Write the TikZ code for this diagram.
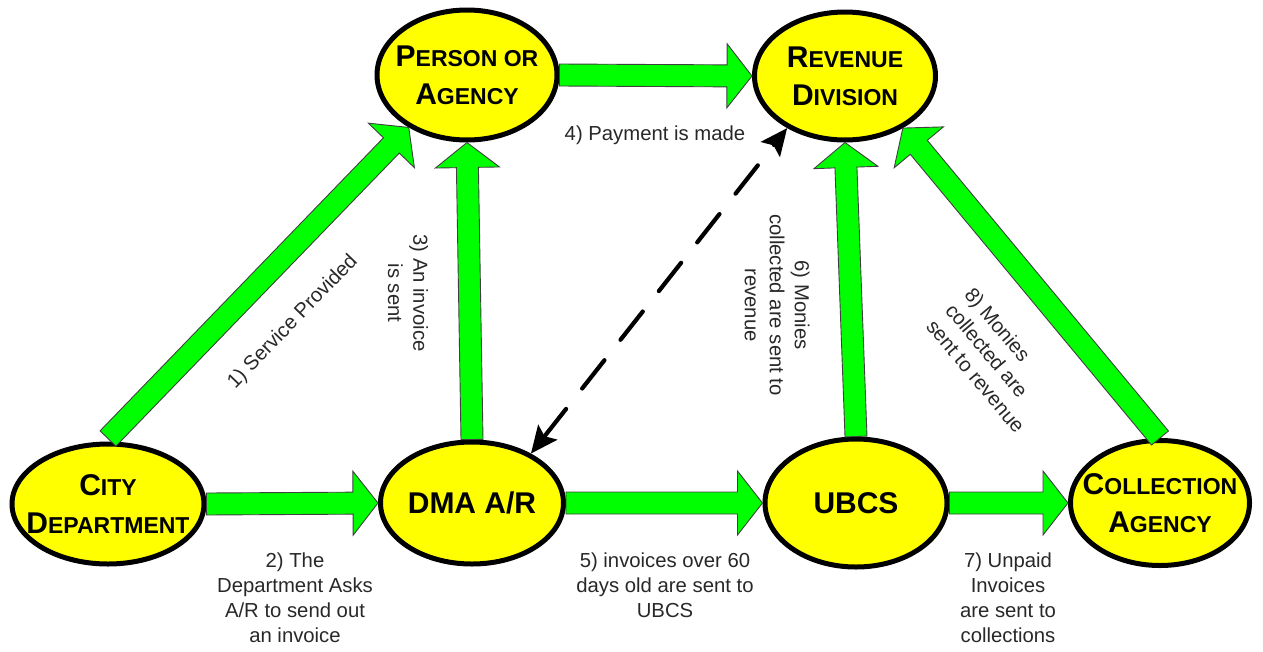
\documentclass[tikz,border=0pt]{standalone}
\usepackage{fontspec}
\setmainfont{Liberation Sans}
\usetikzlibrary{shapes.geometric,calc,arrows.meta}
\definecolor{ylw}{RGB}{255,255,0}
\definecolor{grn}{RGB}{0,255,0}
\definecolor{lbl}{RGB}{40,40,40}
\newcommand\bigc[1]{{\fontsize{30}{38}\selectfont #1}}
\newcommand\blockarrow[2]{%
  \coordinate (ba-s) at (#1);
  \coordinate (ba-e) at (#2);
  \coordinate (ba-h) at ($(ba-e)!25pt!(ba-s)$);
  \draw[blockar] ($(ba-s)!11pt!90:(ba-e)$) -- ($(ba-h)!11pt!90:(ba-e)$)
    -- ($(ba-h)!32pt!90:(ba-e)$) -- (ba-e) -- ($(ba-h)!32pt!-90:(ba-e)$)
    -- ($(ba-h)!11pt!-90:(ba-e)$) -- ($(ba-s)!11pt!-90:(ba-e)$) -- cycle;}
\tikzset{
  ell/.style={ellipse, draw=black, line width=5pt, fill=ylw, inner sep=0pt},
  ttl/.style={font=\fontsize{23}{38}\selectfont\bfseries, align=center, text=black, inner sep=0pt},
  lab/.style={font=\fontsize{20.3}{25}\selectfont, text=lbl, align=center, inner sep=0pt},
  blockar/.style={fill=grn, draw=black!75, line width=0.9pt, line join=miter},
  dasharrow/.style={draw=black, line width=4.2pt, dash pattern=on 36pt off 26pt, line cap=round,
    {Stealth[length=27pt,width=24pt,inset=5pt]}-{Stealth[length=27pt,width=24pt,inset=5pt]}}
}
\begin{document}
\begin{tikzpicture}[x=1pt,y=-1pt]
\useasboundingbox (0,0) rectangle (1263,651);
% ellipses
\node[ell, minimum width=180pt, minimum height=130pt] (person) at (467,75) {};
\node[ell, minimum width=181pt, minimum height=128pt] (revenue) at (845,76) {};
\node[ell, minimum width=192pt, minimum height=120pt] (city) at (108,504) {};
\node[ell, minimum width=183pt, minimum height=122pt] (dma) at (472,503) {};
\node[ell, minimum width=182pt, minimum height=128pt] (ubcs) at (856,503) {};
\node[ell, minimum width=179pt, minimum height=125pt] (collection) at (1160,503) {};
% titles
\node[ttl] (person-t) at (person) {\bigc{P}ERSON OR\\\bigc{A}GENCY};
\node[ttl] (revenue-t) at (revenue) {\bigc{R}EVENUE\\\bigc{D}IVISION};
\node[ttl] (city-t) at (city) {\bigc{C}ITY\\\bigc{D}EPARTMENT};
\node[ttl] (dma-t) at (dma) {\bigc{DMA A/R}};
\node[ttl] (ubcs-t) at (ubcs) {\bigc{UBCS}};
\node[ttl] (collection-t) at (collection) {\bigc{C}OLLECTION\\\bigc{A}GENCY};
% block arrows
\blockarrow{[yshift=3pt]city.north}{person.222}
\blockarrow{city.east}{dma.west}
\blockarrow{dma.north}{person.south}
\blockarrow{person.east}{revenue.west}
\blockarrow{dma.east}{ubcs.west}
\blockarrow{ubcs.north}{revenue.south}
\blockarrow{ubcs.east}{collection.west}
\blockarrow{collection.north}{revenue.-42}
% dashed double arrow
\draw[dasharrow] (dma.40) -- (revenue.222);
% labels
\node[lab, rotate=46] (l1) at (293,322) {1) Service Provided};
\node[lab, anchor=north] (l2) at (295,552.5) {2) The\\Department Asks\\A/R to send out\\an invoice};
\node[lab, rotate=-90] (l3) at (408,293) {3) An invoice\\is sent};
\node[lab, anchor=base] (l4) at (655,140) {4) Payment is made};
\node[lab, anchor=north] (l5) at (665,552.5) {5) invoices over 60\\days old are sent to\\UBCS};
\node[lab, rotate=-90] (l6) at (777,305) {6) Monies\\collected are sent to\\revenue};
\node[lab, anchor=north] (l7) at (1008,552.5) {7) Unpaid\\Invoices\\are sent to\\collections};
\node[lab, rotate=-50, align=left] (l8) at (995,360) {8) Monies\\collected are\\sent to revenue};
\end{tikzpicture}
\end{document}
